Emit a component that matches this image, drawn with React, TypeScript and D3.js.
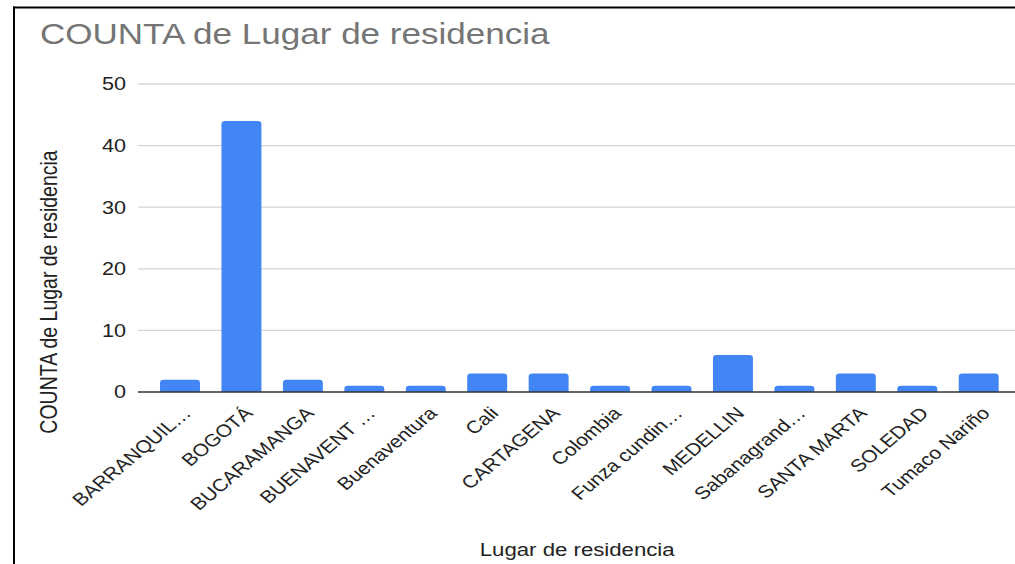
import * as React from "react"
import { select, scaleBand, scaleLinear } from "d3"

const categories = [
  "BARRANQUIL…",
  "BOGOTÁ",
  "BUCARAMANGA",
  "BUENAVENT …",
  "Buenaventura",
  "Cali",
  "CARTAGENA",
  "Colombia",
  "Funza cundin…",
  "MEDELLIN",
  "Sabanagrand…",
  "SANTA MARTA",
  "SOLEDAD",
  "Tumaco Nariño",
]
const counts = [2, 44, 2, 1, 1, 3, 3, 1, 1, 6, 1, 3, 1, 3]
const yTicks = [0, 10, 20, 30, 40, 50]

const chartTitle = "COUNTA de Lugar de residencia"
const xTitle = "Lugar de residencia"
const yTitle = "COUNTA de Lugar de residencia"

export default function App() {
  const svgRef = React.useRef<SVGSVGElement>(null)

  const width = 1015
  const height = 564
  // the screenshot is stretched sideways, so draw in narrow units and scale x
  const sx = 1.2
  const font = "'Liberation Sans', Arial, sans-serif"

  React.useEffect(() => {
    const svg = select(svgRef.current)
    svg.selectAll("*").remove()

    svg.append("rect").attr("width", width).attr("height", height).attr("fill", "#fff")

    const g = svg.append("g").attr("transform", `scale(${sx},1)`)

    const x = scaleBand<string>()
      .domain(categories)
      .range([124.4, 841.2])
      .paddingInner(0.35)
      .paddingOuter(0.175)

    const y = scaleLinear().domain([0, 50]).range([392, 84])

    const gridLeft = 115
    const gridRight = width / sx

    // gridlines + tick labels
    g.selectAll(".grid")
      .data(yTicks.filter((d) => d !== 0))
      .join("line")
      .attr("x1", gridLeft)
      .attr("x2", gridRight)
      .attr("y1", (d) => y(d))
      .attr("y2", (d) => y(d))
      .attr("stroke", "#d6d6d6")
      .attr("stroke-width", 1.3)

    g.selectAll(".ytick")
      .data(yTicks)
      .join("text")
      .attr("x", 105)
      .attr("y", (d) => y(d))
      .attr("dy", "0.36em")
      .attr("text-anchor", "end")
      .attr("font-family", font)
      .attr("font-size", 18)
      .attr("fill", "#222")
      .text((d) => d)

    // bars with slightly rounded tops
    const r = 3
    g.selectAll(".bar")
      .data(counts)
      .join("path")
      .attr("fill", "#4285f4")
      .attr("d", (d, i) => {
        const x0 = x(categories[i]) as number
        const w = x.bandwidth()
        const top = y(d)
        const base = y(0)
        return `M${x0},${base}V${top + r}Q${x0},${top} ${x0 + r},${top}H${x0 + w - r}Q${x0 + w},${top} ${x0 + w},${top + r}V${base}Z`
      })

    // baseline
    g.append("line")
      .attr("x1", gridLeft)
      .attr("x2", gridRight)
      .attr("y1", y(0))
      .attr("y2", y(0))
      .attr("stroke", "#333")
      .attr("stroke-width", 1.3)

    // slanted category labels
    g.selectAll(".xlab")
      .data(categories)
      .join("text")
      .attr(
        "transform",
        (d) => `translate(${(x(d) as number) + x.bandwidth() / 2 + 6},${410}) rotate(-45)`
      )
      .attr("dy", "0.35em")
      .attr("text-anchor", "end")
      .attr("font-family", font)
      .attr("font-size", 17.5)
      .attr("fill", "#222")
      .text((d) => d)

    // titles
    g.append("text")
      .attr("x", 33.3)
      .attr("y", 44)
      .attr("font-family", font)
      .attr("font-size", 29.2)
      .attr("fill", "#757575")
      .text(chartTitle)

    g.append("text")
      .attr("transform", `translate(47.5,292) rotate(-90)`)
      .attr("text-anchor", "middle")
      .attr("font-family", font)
      .attr("font-size", 19.5)
      .attr("fill", "#222")
      .text(yTitle)

    g.append("text")
      .attr("x", 481)
      .attr("y", 556)
      .attr("text-anchor", "middle")
      .attr("font-family", font)
      .attr("font-size", 18.5)
      .attr("fill", "#222")
      .text(xTitle)

    // frame of the screenshot (top and left edges)
    svg.append("line").attr("x1", 13).attr("x2", width).attr("y1", 7.5).attr("y2", 7.5)
      .attr("stroke", "#000").attr("stroke-width", 2)
    svg.append("line").attr("x1", 14).attr("x2", 14).attr("y1", 6.5).attr("y2", height)
      .attr("stroke", "#000").attr("stroke-width", 2)
  }, [])

  return (
    <svg
      ref={svgRef}
      width={width}
      height={height}
      style={{ position: "absolute", left: 0, top: 0 }}
    ></svg>
  )
}
